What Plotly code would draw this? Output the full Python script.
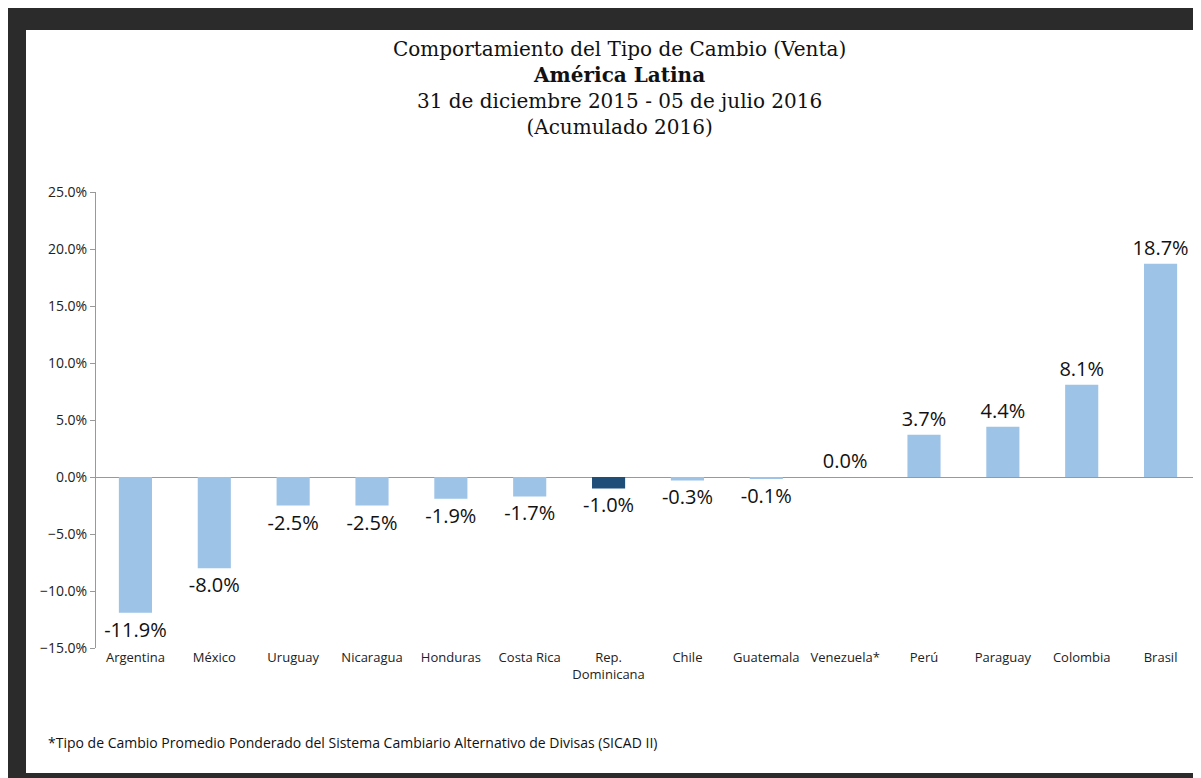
import plotly.graph_objects as go

paises = ["Argentina", "México", "Uruguay", "Nicaragua", "Honduras", "Costa Rica",
          "Rep.<br>Dominicana", "Chile", "Guatemala", "Venezuela*", "Perú",
          "Paraguay", "Colombia", "Brasil"]
variacion = [-11.9, -8.0, -2.5, -2.5, -1.9, -1.7, -1.0, -0.3, -0.1, 0.0, 3.7, 4.4, 8.1, 18.7]

colores = ["#1f4e79" if p.startswith("Rep.") else "#9dc3e6" for p in paises]

fig = go.Figure()
fig.add_trace(go.Bar(
    x=paises, y=variacion,
    marker=dict(color=colores, line=dict(width=0)),
    width=0.42,
    text=[f"{v:.1f}%" for v in variacion],
    textposition="outside",
    constraintext="none",
    textfont=dict(size=20, color="#111", family="Open Sans"),
    cliponaxis=False,
))

fig.add_shape(type="rect", xref="paper", yref="paper",
              x0=-0.0634, x1=1.01, y0=-0.274, y1=1.355,
              fillcolor="white", line=dict(width=0), layer="below")

fig.add_annotation(
    xref="paper", yref="paper", x=0.474, y=1.345, yanchor="top", showarrow=False,
    text="Comportamiento del Tipo de Cambio (Venta)<br><b>América Latina</b><br>"
         "31 de diciembre 2015 - 05 de julio 2016<br>(Acumulado 2016)",
    font=dict(size=20, family="DejaVu Serif, serif", color="#111"),
    align="center")

fig.add_annotation(
    xref="paper", yref="paper", x=-0.045, y=-0.232, xanchor="left", showarrow=False,
    text="*Tipo de Cambio Promedio Ponderado del Sistema Cambiario Alternativo de Divisas (SICAD II)",
    font=dict(size=14, family="Open Sans", color="#111"))

fig.update_layout(
    width=1201, height=778,
    margin=dict(l=88, r=9, t=184, b=138, autoexpand=False),
    paper_bgcolor="#2b2b2b", plot_bgcolor="white",
    showlegend=False,
    font=dict(family="Open Sans", color="#222"),
)
fig.update_yaxes(range=[-15, 25], dtick=5, tickformat=".1f", ticksuffix="%",
                 showgrid=False, zeroline=True, zerolinecolor="#999", zerolinewidth=1,
                 showline=True, linecolor="#999", ticks="outside", tickcolor="#999",
                 ticklen=5, tickfont=dict(size=14), automargin=False)
fig.update_xaxes(showgrid=False, showline=False, tickfont=dict(size=13), ticklen=0,
                 automargin=False)

fig.write_html("out.html")
